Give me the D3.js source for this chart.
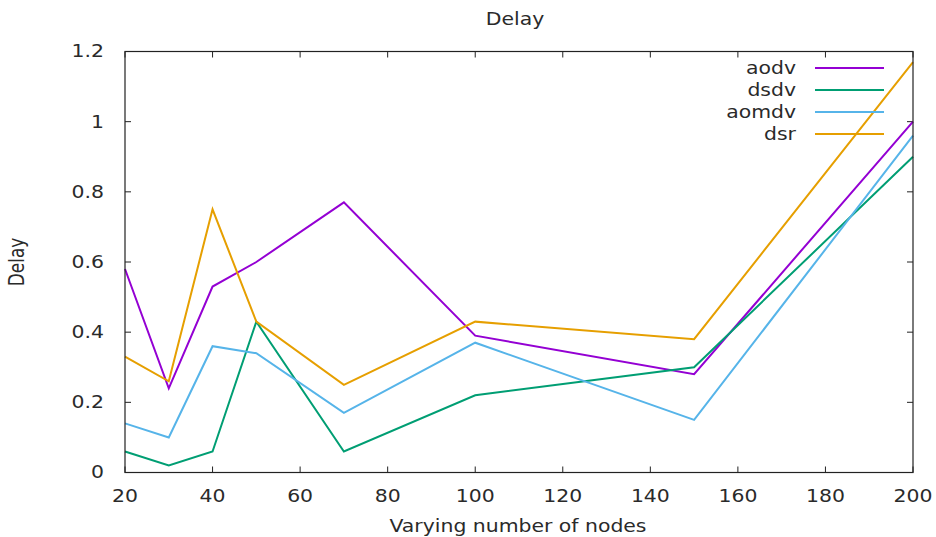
<!DOCTYPE html>
<html>
<head>
<meta charset="utf-8">
<script src="https://cdn.jsdelivr.net/npm/d3@7"></script>
<style>
  body { margin: 0; background: #fff; }
  svg text { font-family: 'DejaVu Sans', sans-serif; fill: #2a2a2a; font-size: 17px; }
</style>
</head>
<body>
<svg id="chart" width="936" height="537"></svg>
<script>
var nodes = [20, 30, 40, 50, 70, 100, 150, 200];
var seriesNames = ['aodv', 'dsdv', 'aomdv', 'dsr'];
var aodv  = [0.58, 0.24, 0.53, 0.60, 0.77, 0.39, 0.28, 1.00];
var dsdv  = [0.06, 0.02, 0.06, 0.43, 0.06, 0.22, 0.30, 0.90];
var aomdv = [0.14, 0.10, 0.36, 0.34, 0.17, 0.37, 0.15, 0.96];
var dsr   = [0.33, 0.26, 0.75, 0.43, 0.25, 0.43, 0.38, 1.17];
var xTicks = [20, 40, 60, 80, 100, 120, 140, 160, 180, 200];
var yTicks = [0, 0.2, 0.4, 0.6, 0.8, 1, 1.2];
var colors = ['#9400d3', '#009e73', '#56b4e9', '#e69f00'];

var LEFT = 125, RIGHT = 913, TOP = 51.5, BOTTOM = 472.5;
var TICK = 6;
var STRETCH = 1.2;   // the reference text is drawn horizontally stretched

var svg = d3.select('#chart');
var x = d3.scaleLinear().domain([20, 200]).range([LEFT, RIGHT]);
var y = d3.scaleLinear().domain([0, 1.2]).range([BOTTOM, TOP]);

var data = [aodv, dsdv, aomdv, dsr];

var addText = function (parent, px, py, str, anchor, dy) {
    return parent.append('text')
        .attr('transform', 'translate(' + px + ',' + py + ') scale(' + STRETCH + ',1)')
        .attr('dy', dy || 0)
        .attr('text-anchor', anchor)
        .text(str);
};

// mirrored inward ticks, gnuplot style
var axisG = svg.append('g').attr('class', 'axes');
xTicks.forEach(function (t) {
    axisG.append('line').attr('x1', x(t)).attr('x2', x(t))
        .attr('y1', BOTTOM).attr('y2', BOTTOM - TICK)
        .style('stroke', '#222').style('stroke-width', 1);
    axisG.append('line').attr('x1', x(t)).attr('x2', x(t))
        .attr('y1', TOP).attr('y2', TOP + TICK)
        .style('stroke', '#222').style('stroke-width', 1);
    addText(axisG, x(t), BOTTOM + 29, t, 'middle');
});
yTicks.forEach(function (t) {
    axisG.append('line').attr('x1', LEFT).attr('x2', LEFT + TICK)
        .attr('y1', y(t)).attr('y2', y(t))
        .style('stroke', '#222').style('stroke-width', 1);
    axisG.append('line').attr('x1', RIGHT).attr('x2', RIGHT - TICK)
        .attr('y1', y(t)).attr('y2', y(t))
        .style('stroke', '#222').style('stroke-width', 1);
    addText(axisG, LEFT - 21, y(t), d3.format('~g')(t), 'end', '0.35em');
});

// series lines
var line = d3.line()
    .x(function (d, i) { return x(nodes[i]); })
    .y(function (d) { return y(d); });

data.forEach(function (vals, k) {
    svg.append('path').datum(vals)
        .attr('d', line)
        .style('fill', 'none')
        .style('stroke', colors[k])
        .style('stroke-width', 2);
});

// frame
svg.append('rect').attr('x', LEFT).attr('y', TOP)
    .attr('width', RIGHT - LEFT).attr('height', BOTTOM - TOP)
    .style('fill', 'none').style('stroke', '#222').style('stroke-width', 1.2);

// legend
var legend = svg.append('g');
seriesNames.forEach(function (name, k) {
    var ly = 68 + k * 22;
    addText(legend, 796, ly, name, 'end', '0.35em');
    legend.append('line').attr('x1', 815).attr('x2', 884)
        .attr('y1', ly).attr('y2', ly)
        .style('stroke', colors[k]).style('stroke-width', 2);
});

// titles
addText(svg, 515, 25, 'Delay', 'middle');
addText(svg, 518, 532, 'Varying number of nodes', 'middle');
svg.append('text')
    .attr('transform', 'translate(17,262) scale(' + STRETCH + ',1) rotate(-90)')
    .attr('dy', '0.35em')
    .attr('text-anchor', 'middle')
    .text('Delay');
</script>
</body>
</html>
